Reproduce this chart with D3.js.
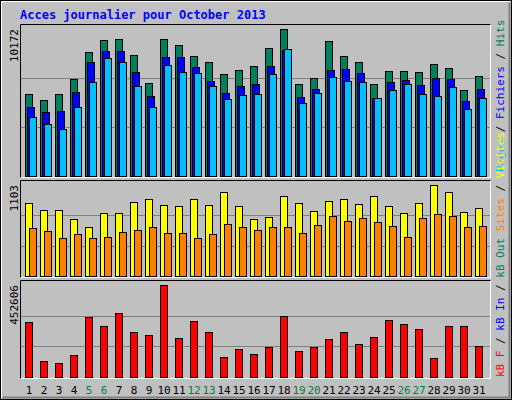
<!DOCTYPE html>
<html>
<head>
<meta charset="utf-8">
<script src="https://cdn.jsdelivr.net/npm/d3@7"></script>
<style>body{margin:0;background:#fff}</style>
</head>
<body>
<script>
// Data
var days = d3.range(1, 32);
var weekend = [5, 6, 12, 13, 19, 20, 26, 27];
var hits = [5654,5259,5654,6692,8560,9390,9460,8352,6415,9460,9044,8283,7868,7038,7314,7591,8837,10172,6346,6761,9321,8283,7868,6346,7245,7245,7176,7730,7453,5930,6899];
var files = [4754,4408,4477,5792,7868,8629,8629,7176,5515,8214,8214,7522,6553,5723,6207,6346,7591,8698,5446,6000,7314,7384,7107,5377,6484,6622,6276,6761,6692,5169,6000];
var pages = [4062,3578,3232,4754,6484,8145,7868,6207,4754,7660,7176,7107,6207,5308,5584,5654,7038,8768,5031,5723,6830,6553,6484,5377,5930,6346,5654,5515,6138,4616,5377];
var visits = [886,802,802,694,598,766,766,898,935,862,850,935,862,1019,850,694,718,971,886,790,910,935,874,971,850,766,886,1103,1019,778,826];
var sites = [586,550,465,513,465,477,537,562,598,525,525,465,513,634,598,562,598,598,525,622,730,670,706,658,610,477,706,754,730,598,610];
var kbytes = [268300,80600,70800,110300,293000,248500,312700,223800,209000,452606,194200,273200,223800,100400,139900,115200,149800,297900,130000,149800,189300,223800,164600,199100,278100,258400,238600,95500,248500,248500,154700];

var W = 512, H = 400, font = "DejaVu Sans Mono";
var svg = d3.select("body").append("svg").attr("width", W).attr("height", H)
  .style("font-family", font);

// background and outer border
svg.append("rect").attr("x", 0.5).attr("y", 0.5).attr("width", W - 1).attr("height", H - 1)
  .attr("fill", "#c0c0c0").attr("stroke", "#000");
svg.append("path").attr("d", "M1.5,398.5V1.5H510.5").attr("stroke", "#fff").attr("fill", "none");
svg.append("path").attr("d", "M2.5,397.5H509.5V2.5").attr("stroke", "#808080").attr("stroke-width", 2).attr("fill", "none");

svg.append("text").attr("x", 20).attr("y", 19).attr("fill", "#0000ff")
  .style("font-size", "12px").style("font-weight", "bold").text("Acces journalier pour October 2013");

var x = d3.scaleBand().domain(days).range([20, 485]).paddingInner(0);

function panel(y0, y1, max, label) {
  svg.append("rect").attr("x", 20.5).attr("y", y0 + 0.5).attr("width", 470).attr("height", y1 - y0)
    .attr("fill", "#c0c0c0").attr("stroke", "#fff");
  svg.append("path").attr("d", "M20.5," + (y1 + 0.5) + "V" + (y0 + 0.5) + "H490.5")
    .attr("stroke", "#000").attr("fill", "none");
  var top = y0 + 5, base = y1 - 1;
  var y = d3.scaleLinear().domain([0, max]).range([base, top]);
  [max / 3, max * 2 / 3].forEach(function (v) {
    svg.append("line").attr("x1", 21).attr("x2", 490).attr("y1", Math.round(y(v)) + 0.5).attr("y2", Math.round(y(v)) + 0.5)
      .attr("stroke", "#808080");
  });
  svg.append("text").attr("transform", "translate(18," + top + ") rotate(-90)")
    .attr("text-anchor", "end").style("font-size", "11px").attr("fill", "#000").text(label);
  return y;
}

function bars(y, data, off, color) {
  svg.append("g").selectAll("rect").data(data).enter().append("rect")
    .attr("x", function (d, i) { return x(days[i]) + off + 0.5; })
    .attr("y", function (d) { return Math.round(y(d)) + 0.5; })
    .attr("width", 7)
    .attr("height", function (d) { return y(0) - Math.round(y(d)); })
    .attr("fill", color).attr("stroke", "#000");
}

var y1 = panel(24, 177, 10172, "10172");
bars(y1, hits, 5, "#00805c");
bars(y1, files, 7, "#0000ff");
bars(y1, pages, 9, "#00c0ff");

var y2 = panel(180, 277, 1103, "1103");
bars(y2, visits, 5, "#ffff00");
bars(y2, sites, 9, "#ff8000");

var y3 = panel(280, 378, 452606, "452606");
bars(y3, kbytes, 5, "#ff0000");

// day labels
svg.append("g").selectAll("text").data(days).enter().append("text")
  .attr("x", function (d) { return x(d) + 9; }).attr("y", 394)
  .attr("text-anchor", "middle").style("font-size", "11px")
  .attr("fill", function (d) { return weekend.indexOf(d) >= 0 ? "#008040" : "#000"; })
  .text(function (d) { return d; });

// right-side legends (rotated)
function legend(yBottom, parts) {
  var t = svg.append("text").attr("transform", "translate(504," + yBottom + ") rotate(-90)")
    .style("font-size", "11px");
  parts.forEach(function (p) { t.append("tspan").attr("fill", p[1]).text(p[0]); });
}
legend(172, [["Pages", "#00c0ff"], [" / ", "#000"], ["Fichiers", "#0000ff"], [" / ", "#000"], ["Hits", "#00805c"]]);
legend(377, [["kB F", "#ff0000"], [" / ", "#000"], ["kB In", "#0000ff"], [" / ", "#000"], ["kB Out", "#00805c"], [" ", "#000"], ["Sites", "#ff8000"], [" / ", "#000"], ["Visites", "#ffff00"]]);
</script>
</body>
</html>
